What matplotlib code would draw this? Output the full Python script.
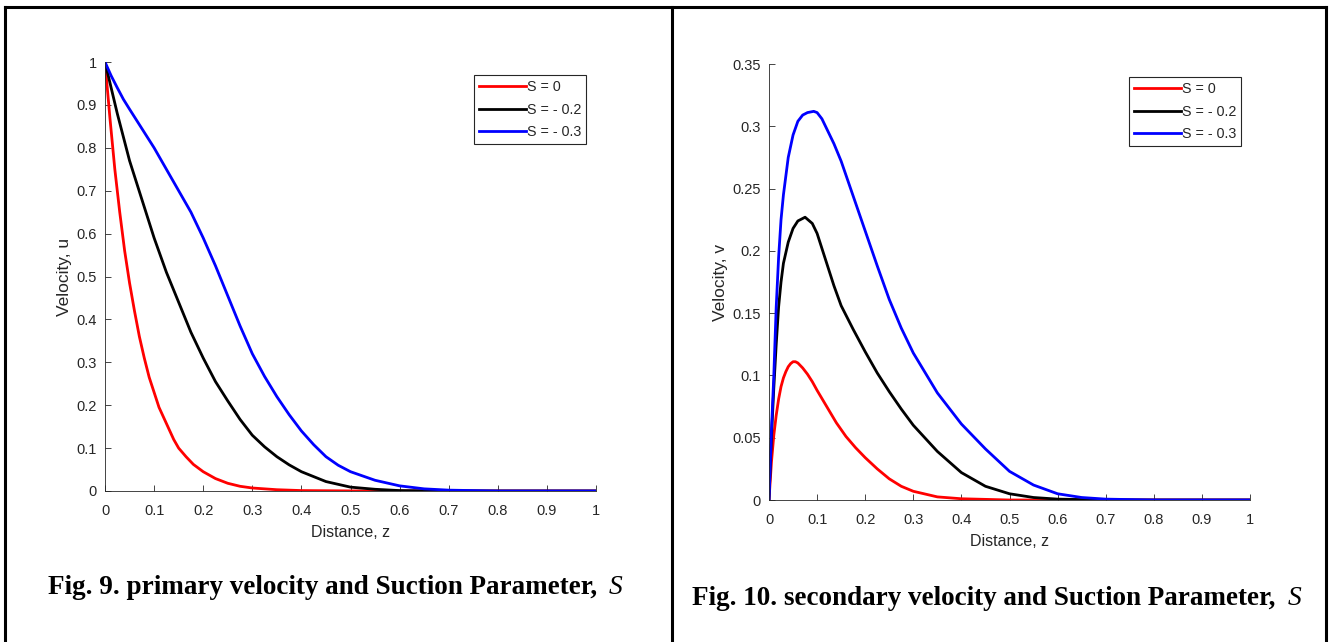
#!/usr/bin/env python3

from matplotlib import pyplot as plt
from matplotlib.lines import Line2D

# primary velocity u against distance z
z_u_red = [0, 0.01, 0.02, 0.03, 0.04, 0.05, 0.06, 0.07, 0.08, 0.09, 0.10, 0.11, 0.12, 0.13, 0.14, 0.15, 0.165, 0.18, 0.20, 0.225, 0.25, 0.275, 0.30, 0.35, 0.40, 0.50, 0.60, 1.0]
u_red = [1, 0.87, 0.75, 0.65, 0.56, 0.485, 0.42, 0.36, 0.31, 0.265, 0.23, 0.195, 0.17, 0.145, 0.12, 0.10, 0.08, 0.062, 0.045, 0.029, 0.018, 0.011, 0.007, 0.003, 0.001, 0.0002, 0, 0]

z_u_black = [0, 0.0125, 0.025, 0.0375, 0.05, 0.075, 0.10, 0.125, 0.15, 0.175, 0.20, 0.225, 0.25, 0.275, 0.30, 0.325, 0.35, 0.375, 0.40, 0.45, 0.50, 0.55, 0.60, 0.70, 1.0]
u_black = [1, 0.94, 0.88, 0.825, 0.77, 0.68, 0.59, 0.51, 0.44, 0.37, 0.31, 0.255, 0.21, 0.167, 0.13, 0.103, 0.08, 0.061, 0.045, 0.022, 0.009, 0.004, 0.001, 0, 0]

z_u_blue = [0, 0.0125, 0.025, 0.0375, 0.05, 0.075, 0.10, 0.125, 0.15, 0.175, 0.20, 0.225, 0.25, 0.275, 0.30, 0.325, 0.35, 0.375, 0.40, 0.425, 0.45, 0.475, 0.50, 0.55, 0.60, 0.65, 0.70, 0.80, 1.0]
u_blue = [1, 0.968, 0.94, 0.913, 0.89, 0.845, 0.80, 0.75, 0.70, 0.65, 0.59, 0.525, 0.455, 0.385, 0.32, 0.267, 0.22, 0.178, 0.14, 0.108, 0.08, 0.06, 0.045, 0.025, 0.012, 0.005, 0.002, 0, 0]

# secondary velocity v against distance z
z_v_red = [0, 0.005, 0.01, 0.015, 0.02, 0.025, 0.03, 0.035, 0.04, 0.045, 0.05, 0.055, 0.06, 0.07, 0.08, 0.09, 0.10, 0.12, 0.14, 0.16, 0.18, 0.20, 0.225, 0.25, 0.275, 0.30, 0.35, 0.40, 0.50, 1.0]
v_red = [0, 0.03, 0.052, 0.068, 0.081, 0.091, 0.098, 0.103, 0.107, 0.1095, 0.111, 0.111, 0.110, 0.106, 0.101, 0.095, 0.088, 0.075, 0.062, 0.051, 0.042, 0.034, 0.025, 0.017, 0.011, 0.007, 0.0025, 0.001, 0, 0]

z_v_black = [0, 0.005, 0.01, 0.015, 0.02, 0.025, 0.03, 0.04, 0.05, 0.06, 0.075, 0.09, 0.10, 0.11, 0.12, 0.135, 0.15, 0.175, 0.20, 0.225, 0.25, 0.275, 0.30, 0.35, 0.40, 0.45, 0.50, 0.55, 0.60, 0.70, 1.0]
v_black = [0, 0.05, 0.09, 0.125, 0.155, 0.175, 0.19, 0.207, 0.218, 0.224, 0.227, 0.222, 0.214, 0.202, 0.19, 0.172, 0.156, 0.137, 0.119, 0.102, 0.087, 0.073, 0.060, 0.039, 0.022, 0.011, 0.005, 0.002, 0.0007, 0, 0]

z_v_blue = [0, 0.005, 0.01, 0.015, 0.02, 0.025, 0.03, 0.04, 0.05, 0.06, 0.07, 0.08, 0.093, 0.10, 0.11, 0.12, 0.135, 0.15, 0.175, 0.20, 0.225, 0.25, 0.275, 0.30, 0.35, 0.40, 0.45, 0.50, 0.55, 0.60, 0.65, 0.70, 0.80, 1.0]
v_blue = [0, 0.055, 0.10, 0.155, 0.195, 0.225, 0.245, 0.275, 0.293, 0.304, 0.309, 0.311, 0.312, 0.311, 0.306, 0.298, 0.286, 0.272, 0.244, 0.216, 0.188, 0.161, 0.138, 0.118, 0.086, 0.061, 0.041, 0.023, 0.012, 0.005, 0.002, 0.0007, 0, 0]

labels = ["S = 0", "S = - 0.2", "S = - 0.3"]
colors = ["#ff0000", "#000000", "#0000ff"]

x_ticks = [0, 0.1, 0.2, 0.3, 0.4, 0.5, 0.6, 0.7, 0.8, 0.9, 1]
x_tick_labels = ["0", "0.1", "0.2", "0.3", "0.4", "0.5", "0.6", "0.7", "0.8", "0.9", "1"]
u_ticks = [0, 0.1, 0.2, 0.3, 0.4, 0.5, 0.6, 0.7, 0.8, 0.9, 1]
u_tick_labels = ["0", "0.1", "0.2", "0.3", "0.4", "0.5", "0.6", "0.7", "0.8", "0.9", "1"]
v_ticks = [0, 0.05, 0.1, 0.15, 0.2, 0.25, 0.3, 0.35]
v_tick_labels = ["0", "0.05", "0.1", "0.15", "0.2", "0.25", "0.3", "0.35"]

captions = ["Fig. 9. primary velocity and Suction Parameter,", "Fig. 10. secondary velocity and Suction Parameter,"]

AXIS_GRAY = "#262626"

plt.rcParams["font.family"] = ["Liberation Sans", "DejaVu Sans"]


def style_axes(ax, yticks, ytick_labels, ymax, ylabel):
    ax.set_xlim(0, 1)
    ax.set_ylim(0, ymax)
    ax.set_xticks(x_ticks)
    ax.set_xticklabels(x_tick_labels)
    ax.set_yticks(yticks)
    ax.set_yticklabels(ytick_labels)
    for side in ("top", "right"):
        ax.spines[side].set_visible(False)
    for side in ("left", "bottom"):
        ax.spines[side].set_color(AXIS_GRAY)
        ax.spines[side].set_linewidth(0.6)
    ax.tick_params(direction="in", length=4, width=0.6, colors=AXIS_GRAY, labelsize=10.5)
    ax.tick_params(axis="x", pad=9.5)
    ax.tick_params(axis="y", pad=6)
    ax.set_xlabel("Distance, z", fontsize=11.5, color=AXIS_GRAY, labelpad=5)
    ax.set_ylabel(ylabel, fontsize=12.5, color=AXIS_GRAY, labelpad=3)


def add_legend(ax, anchor):
    leg = ax.legend(labels, loc="upper right", bbox_to_anchor=anchor,
                    bbox_transform=fig.transFigure, fontsize=10.3,
                    handlelength=3.3, handletextpad=0.05, labelspacing=0.6,
                    borderpad=0.35, borderaxespad=0, fancybox=False,
                    framealpha=1, edgecolor=AXIS_GRAY)
    leg.get_frame().set_linewidth(0.8)
    for t in leg.get_texts():
        t.set_color(AXIS_GRAY)


fig = plt.figure(figsize=(13.3, 6.42), dpi=100)

# table frame around the two panels
W, H = 1330, 642
frame_kw = dict(color="black", linewidth=2.2, transform=fig.transFigure, clip_on=False)
fig.add_artist(Line2D([5 / W, 1326 / W], [1 - 7 / H, 1 - 7 / H], **frame_kw))
fig.add_artist(Line2D([5 / W, 5 / W], [1 - 7 / H, 0], **frame_kw))
fig.add_artist(Line2D([672 / W, 672 / W], [1 - 7 / H, 0], **frame_kw))
fig.add_artist(Line2D([1326 / W, 1326 / W], [1 - 7 / H, 0], **frame_kw))

ax1 = fig.add_axes([105 / W, 1 - 491 / H, 491 / W, 429 / H])
ax1.plot(z_u_red, u_red, color=colors[0], linewidth=2)
ax1.plot(z_u_black, u_black, color=colors[1], linewidth=2)
ax1.plot(z_u_blue, u_blue, color=colors[2], linewidth=2)
style_axes(ax1, u_ticks, u_tick_labels, 1, "Velocity, u")
add_legend(ax1, (586 / W, 1 - 75 / H))

ax2 = fig.add_axes([769 / W, 1 - 500 / H, 481 / W, 436 / H])
ax2.plot(z_v_red, v_red, color=colors[0], linewidth=2)
ax2.plot(z_v_black, v_black, color=colors[1], linewidth=2)
ax2.plot(z_v_blue, v_blue, color=colors[2], linewidth=2)
style_axes(ax2, v_ticks, v_tick_labels, 0.35, "Velocity, v")
add_legend(ax2, (1241 / W, 1 - 77 / H))

# captions: bold text followed by an italic S
fig.canvas.draw()
for x_px, y_px, text in [(48, 594, captions[0]), (692, 605, captions[1])]:
    t = fig.text(x_px / W, 1 - y_px / H, text, fontsize=19.5, fontweight="bold",
                 family="Liberation Serif", va="baseline", ha="left")
    right = t.get_window_extent(renderer=fig.canvas.get_renderer()).x1
    fig.text((right + 12) / W, 1 - y_px / H, "S", fontsize=19.8, style="italic",
             family="Liberation Serif", va="baseline", ha="left")

fig.savefig("out.png", dpi=100)
